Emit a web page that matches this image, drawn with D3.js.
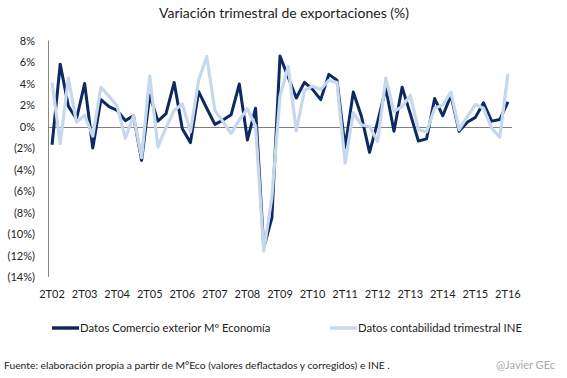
<!DOCTYPE html>
<html><head><meta charset="utf-8">
<script src="https://cdn.jsdelivr.net/npm/d3@7"></script>
<style>body{margin:0;background:#fff}svg{display:block}text{font-family:Lato,"Open Sans",sans-serif}</style>
</head><body>
<svg id="c" width="567" height="378"></svg>
<script>
const years = ["02","03","04","05","06","07","08","09","10","11","12","13","14","15","16"];
const quarters = [];
years.forEach((y,i)=>{ const qs = i===years.length-1 ? [2] : [2,3,4,1]; qs.forEach(q=>{ const yy = q===1 ? String(+y+1).padStart(2,"0") : y; quarters.push(q+"T"+yy); }); });
const categories = quarters.slice(0,57);
const tickLabels = years.map(y=>"2T"+y);
const seriesMinEco = [-1.7,5.8,1.9,0.7,4.0,-2.0,2.5,1.85,1.5,0.55,1.0,-3.15,2.9,0.5,1.2,4.1,-0.2,-1.5,3.25,1.7,0.2,0.6,1.1,3.95,-1.25,1.7,-11.3,-8.5,6.55,4.6,2.65,4.1,3.45,2.5,4.85,4.3,-1.95,3.2,0.95,-2.4,0.45,3.55,-0.45,3.65,1.2,-1.35,-1.15,2.6,1.0,2.9,-0.45,0.4,0.85,2.2,0.5,0.65,2.3];
const seriesINE = [4.1,-1.6,4.5,0.4,1.05,-0.9,3.65,2.8,1.9,-1.1,1.0,-2.9,4.7,-1.9,-0.1,1.5,2.1,-0.5,4.3,6.5,1.5,0.45,-0.65,0.6,1.65,0.05,-11.6,-6.6,2.8,5.6,-0.4,3.35,3.75,3.45,4.3,4.1,-3.4,1.3,0.15,0.0,-1.4,4.5,1.4,1.85,2.9,-0.3,-0.5,1.7,2.0,3.2,-0.3,0.9,2.05,1.7,-0.15,-1.0,4.9];
const yTicks = [8,6,4,2,0,-2,-4,-6,-8,-10,-12,-14];
const seriesNames = ["Datos Comercio exterior Mº Economía","Datos contabilidad trimestral INE"];

const svg = d3.select("#c");
const x = d3.scaleBand().domain(categories).range([48,512]);
const y = d3.scaleLinear().domain([-14,8]).range([277,40.5]);
const cx = d => x(d)+x.bandwidth()/2;
const fmt = v => v<0 ? "("+Math.abs(v)+"%)" : v+"%";

svg.append("text").attr("x",284).attr("y",18).attr("text-anchor","middle")
  .attr("font-size",14).attr("fill","#222").text("Variación trimestral de exportaciones (%)");

svg.append("g").selectAll("text").data(yTicks).join("text")
  .attr("x",35).attr("y",d=>y(d)+4).attr("text-anchor","end").attr("font-size",11).attr("fill","#222")
  .text(fmt);
svg.append("line").attr("x1",48.5).attr("x2",48.5).attr("y1",y(8)).attr("y2",y(-14)).attr("stroke","#888");
svg.append("line").attr("x1",48).attr("x2",512).attr("y1",Math.round(y(0))+0.5).attr("y2",Math.round(y(0))+0.5).attr("stroke","#808080");

svg.append("g").selectAll("text").data(tickLabels).join("text")
  .attr("x",d=>cx(d)).attr("y",298).attr("text-anchor","middle").attr("font-size",11).attr("fill","#222").text(d=>d);

const line = d3.line().x((d,i)=>cx(categories[i])).y(d=>y(d));
svg.append("path").datum(seriesMinEco).attr("d",line).attr("fill","none").attr("stroke","#0c2a61").attr("stroke-width",3).attr("stroke-linejoin","round");
svg.append("path").datum(seriesINE).attr("d",line).attr("fill","none").attr("stroke","#c6d8ee").attr("stroke-width",3.2).attr("stroke-linejoin","round");

const leg = [{x:52,c:"#0c2a61"},{x:330,c:"#c6d8ee"}];
leg.forEach((l,i)=>{
  svg.append("line").attr("x1",l.x).attr("x2",l.x+27).attr("y1",328).attr("y2",328).attr("stroke",l.c).attr("stroke-width",3.5);
  svg.append("text").attr("x",l.x+28).attr("y",332).attr("font-size",11.3).attr("fill","#222").text(seriesNames[i]);
});

svg.append("text").attr("x",4).attr("y",369).attr("font-size",10.3).attr("fill","#222")
  .text("Fuente: elaboración propia a partir de MºEco (valores deflactados y corregidos) e INE .");
svg.append("text").attr("x",555).attr("y",369).attr("text-anchor","end").attr("font-size",11).attr("fill","#aaa").text("@Javier GEc");
</script></body></html>
